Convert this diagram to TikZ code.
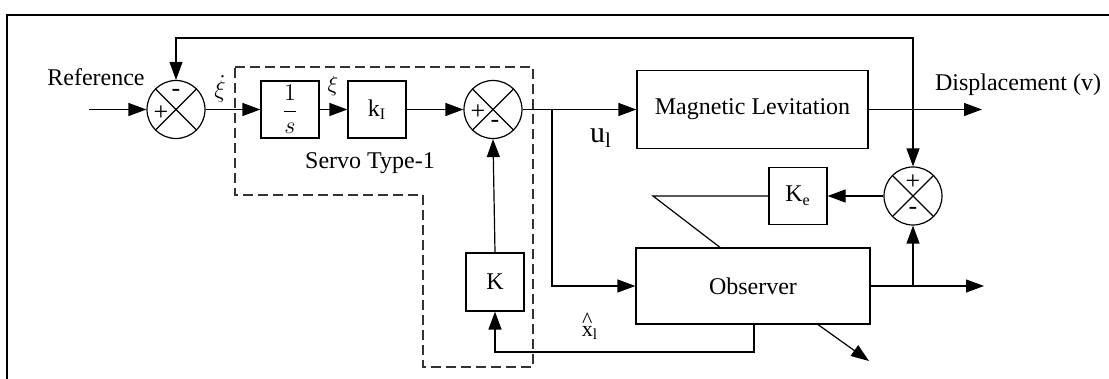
\documentclass[tikz,border=0pt]{standalone}
\usepackage{fontspec}
\setmainfont{Liberation Serif}
\usetikzlibrary{arrows.meta}
\begin{document}
\begin{tikzpicture}[x=0.5pt,y=-0.5pt,
  line width=0.6pt,
  >={Triangle[length=9pt,width=6.5pt]},
  every node/.style={font=\fontsize{12}{14}\selectfont},
  blk/.style={draw,rectangle,inner sep=0pt},
  sumc/.style={draw,circle,minimum size=29pt,inner sep=0pt,
    path picture={\draw (path picture bounding box.south west) -- (path picture bounding box.north east)
      (path picture bounding box.north west) -- (path picture bounding box.south east);}},
  sgn/.style={inner sep=0pt,font=\fontsize{13}{14}\selectfont},
  lbl/.style={inner sep=0pt}
]
\useasboundingbox (0,0) rectangle (1109,379);
% frame
\draw[line width=1.1pt] (7,379) -- (7,15) -- (1109,15);

% dashed servo region
\draw[dash pattern=on 5pt off 2.5pt,draw=black!80]
  (235,67) -- (533,67) -- (533,367) -- (423,367) -- (423,195) -- (235,195) -- cycle;

% blocks
\node[blk,minimum width=29pt,minimum height=28.5pt] (inv) at (290,109.5) {$\displaystyle\frac{1}{s}$};
\node[blk,minimum width=29pt,minimum height=28.5pt] (kI) at (377,109.5) {k\textsubscript{I}};
\node[blk,minimum width=115.5pt,minimum height=39pt] (mag) at (752.5,109.5) {Magnetic Levitation};
\node[blk,minimum width=29pt,minimum height=28.5pt] (Ke) at (798,196) {K\textsubscript{e}};
\node[blk,minimum width=117pt,minimum height=38pt] (obs) at (753,286) {Observer};
\node[blk,minimum width=29pt,minimum height=29pt] (K) at (495,282) {K};

% summing junctions
\node[sumc] (s1) at (176,109.5) {};
\node[sumc] (s2) at (493,109.5) {};
\node[sumc] (s3) at (913,196) {};
\node[sgn] (s1m) at (176,93) {-};
\node[sgn] (s1p) at (161,113) {+};
\node[sgn] (s2p) at (478,112) {+};
\node[sgn] (s2m) at (495,124) {-};
\node[sgn] (s3p) at (913,182) {+};
\node[sgn] (s3m) at (913,211) {-};

% coordinates
\coordinate (in) at (89,109.5);
\coordinate (tl) at (176,38);
\coordinate (tr) at (913,38);
\coordinate (br) at (552,109.5);
\coordinate (dout) at (982,109.5);
\coordinate (kl) at (653,196);
\coordinate (od) at (720,267);
\coordinate (oout) at (984,286);
\coordinate (ob) at (913,286);
\coordinate (obb) at (754,305);
\coordinate (obc) at (754,352);
\coordinate (dga) at (818,305);
\coordinate (dgb) at (869,361);

% connectors
\draw[->] (in) -- (s1.west);
\draw[<->] (s1.north) -- (tl) -- (tr) -- (s3.north);
\draw[->] (s1.east) -- (inv.west);
\draw[->] (inv.east) -- (kI.west);
\draw[->] (kI.east) -- (s2.west);
\draw[->] (s2.east) -- (mag.west);
\draw[->] (br) |- (obs.west);
\draw[->] (mag.east) -- (dout);
\draw[->] (s3.west) -- (Ke.east);
\draw (Ke.west) -- (kl) -- (obs.north -| od);
\draw[->] (obs.east) -- (oout);
\draw[->] (ob) -- (s3.south);
\draw[->] (obs.south -| obb) -- (obc) -| (K.south);
\draw[->] (K.north) -- (s2.south);
\draw[->] (obs.south -| dga) -- (dgb);

% labels
\node[lbl] (lref) at (96,77) {Reference};
\node[lbl,font=\fontsize{13}{14}\selectfont] (lxid) at (220,89) {$\dot\xi$};
\node[lbl,font=\fontsize{11}{12}\selectfont] (lxi) at (333,86) {$\xi$};
\node[lbl] (lservo) at (370,163) {Servo Type-1};
\node[lbl,font=\fontsize{15}{17}\selectfont] (lu) at (601,138) {u\textsubscript{l}};
\node[lbl] (ldisp) at (1018,85) {Displacement (v)};
\node[lbl,font=\fontsize{11}{12}\selectfont] (lx) at (590,333) {\ooalign{x\cr\hidewidth\raisebox{4.5pt}{\textasciicircum}\hidewidth\cr}\textsubscript{l}};
\end{tikzpicture}
\end{document}
